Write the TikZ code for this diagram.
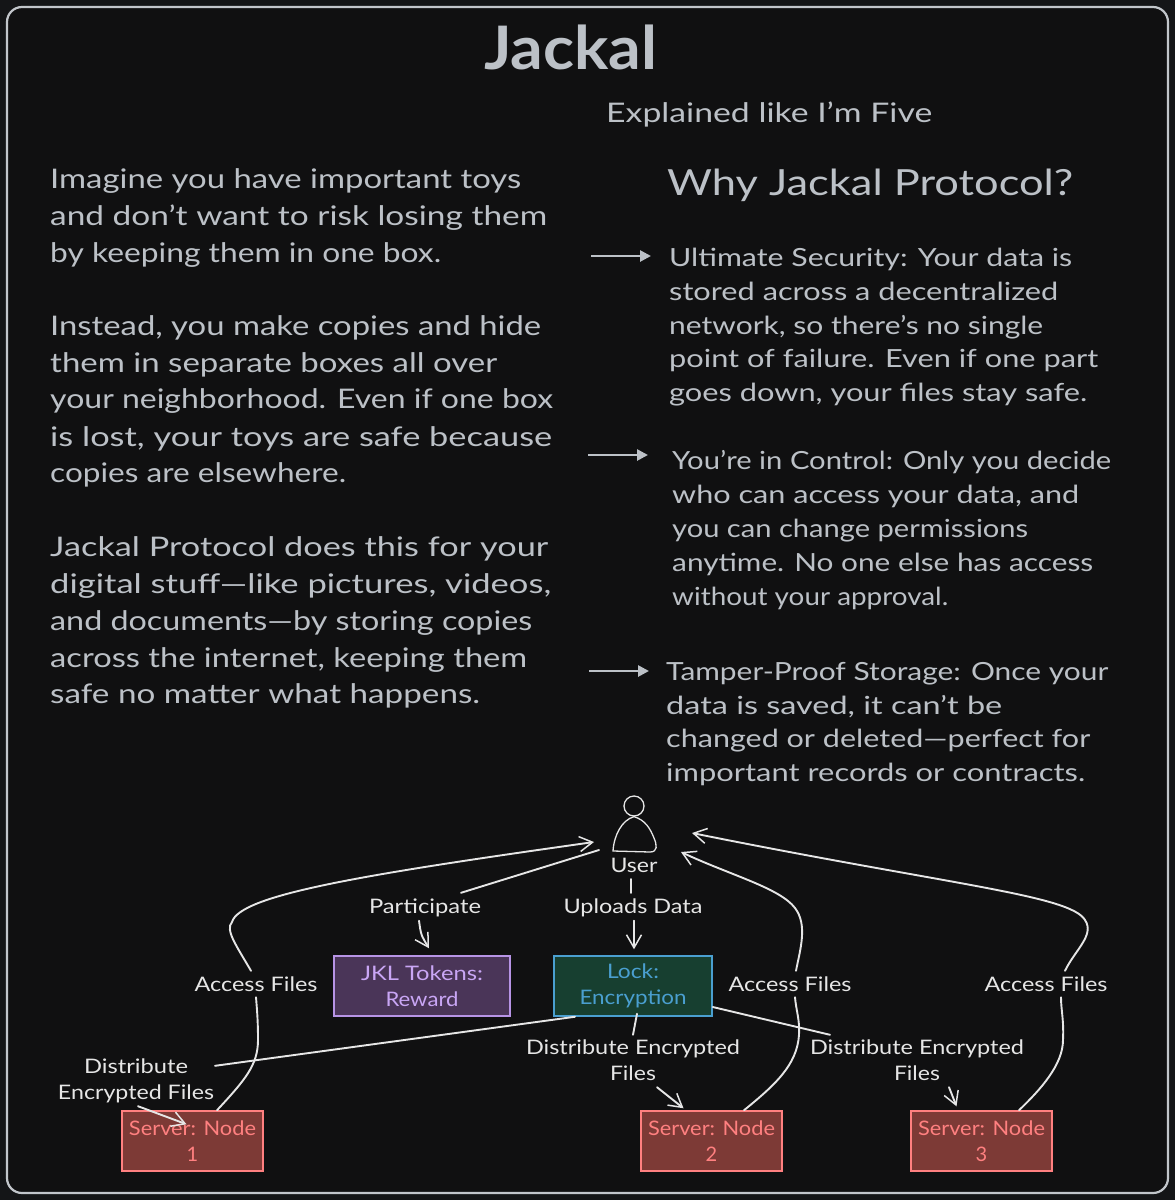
\documentclass[tikz,border=0pt]{standalone}
\usepackage{graphicx}
\usepackage{fontspec}
\setmainfont{Lato}
\usetikzlibrary{arrows.meta}
\definecolor{outerbg}{HTML}{141517}
\definecolor{innerbg}{HTML}{101011}
\definecolor{frameline}{HTML}{C2C6CB}
\definecolor{bodytext}{HTML}{BCC1C7}
\definecolor{diagtext}{HTML}{E6E6E6}
\definecolor{jklfill}{HTML}{4A3558}
\definecolor{jklline}{HTML}{B794E6}
\definecolor{jkltext}{HTML}{C9A6F5}
\definecolor{lockfill}{HTML}{173F30}
\definecolor{lockline}{HTML}{4A9FD0}
\definecolor{srvfill}{HTML}{7D3A36}
\definecolor{srvline}{HTML}{FF8080}
\newcommand{\fl}[2]{\resizebox{#1pt}{\height}{#2}}
\newcommand{\bodyline}[5]{\node[bodyline] (#1) at (#2,#3) {\fl{#4}{#5}};}
\tikzset{
  bodyline/.style={anchor=base west,inner sep=0pt,text=bodytext,font=\fontsize{27}{32}\selectfont},
  rightline/.style={anchor=base west,inner sep=0pt,text=bodytext,font=\fontsize{25}{30}\selectfont},
  lab/.style={inner sep=0pt,text=diagtext,align=center,font=\fontsize{20}{26}\selectfont},
  boxbase/.style={draw,line width=1.5pt,inner sep=0pt,align=center,font=\fontsize{20}{26}\selectfont},
  jklbox/.style={boxbase,fill=jklfill,draw=jklline,text=jkltext,minimum width=176pt,minimum height=60pt},
  lockbox/.style={boxbase,fill=lockfill,draw=lockline,text=lockline,minimum width=158pt,minimum height=60pt},
  srvbox/.style={boxbase,fill=srvfill,draw=srvline,text=srvline,minimum width=141pt,minimum height=60pt},
  conn/.style={draw=diagtext,line width=1.9pt,line cap=round},
  barb/.style={conn,-{Straight Barb[length=13pt,width=15pt,line width=1.5pt]}},
  solidarrow/.style={draw=bodytext,line width=2.6pt,-{Triangle[length=11pt,width=11pt]}}
}
\begin{document}
\begin{tikzpicture}[x=1pt,y=-1pt]
\useasboundingbox (0,0) rectangle (1175,1200);
\fill[outerbg] (0,0) rectangle (1175,1200);
\draw[frameline,fill=innerbg,line width=2.2pt,rounded corners=15pt] (7,7) rectangle (1168,1193);

% headings
\node[anchor=base west,inner sep=0pt,text=bodytext,font=\fontsize{60}{70}\selectfont\bfseries] (title) at (484,69) {\fl{173}{Jackal}};
\node[anchor=base west,inner sep=0pt,text=bodytext,font=\fontsize{27}{32}\selectfont] (subtitle) at (606,122) {\fl{326}{Explained like I'm Five}};
\node[anchor=base west,inner sep=0pt,text=bodytext,font=\fontsize{36}{42}\selectfont] (why) at (667,195) {\fl{406}{Why Jackal Protocol?}};

% left column
\bodyline{a1}{50}{188}{471}{Imagine you have important toys}
\bodyline{a2}{50}{225}{497}{and don’t want to risk losing them}
\bodyline{a3}{50}{262}{391}{by keeping them in one box.}
\bodyline{b1}{50}{335}{491}{Instead, you make copies and hide}
\bodyline{b2}{50}{372}{447}{them in separate boxes all over}
\bodyline{b3}{50}{408}{503}{your neighborhood. Even if one box}
\bodyline{b4}{50}{446}{502}{is lost, your toys are safe because}
\bodyline{b5}{50}{482}{296}{copies are elsewhere.}
\bodyline{c1}{50}{556}{498}{Jackal Protocol does this for your}
\bodyline{c2}{50}{593}{501}{digital stuff—like pictures, videos,}
\bodyline{c3}{50}{630}{482}{and documents—by storing copies}
\bodyline{c4}{50}{667}{477}{across the internet, keeping them}
\bodyline{c5}{50}{703}{430}{safe no matter what happens.}

% right column
\node[rightline] (d1) at (669,266) {\fl{403}{Ultimate Security: Your data is}};
\node[rightline] (d2) at (669,300) {\fl{389}{stored across a decentralized}};
\node[rightline] (d3) at (669,334) {\fl{374}{network, so there’s no single}};
\node[rightline] (d4) at (669,367) {\fl{429}{point of failure. Even if one part}};
\node[rightline] (d5) at (669,401) {\fl{418}{goes down, your files stay safe.}};
\node[rightline] (e1) at (672,469) {\fl{439}{You’re in Control: Only you decide}};
\node[rightline] (e2) at (672,503) {\fl{407}{who can access your data, and}};
\node[rightline] (e3) at (672,537) {\fl{356}{you can change permissions}};
\node[rightline] (e4) at (672,571) {\fl{421}{anytime. No one else has access}};
\node[rightline] (e5) at (672,605) {\fl{276}{without your approval.}};
\node[rightline] (f1) at (666,680) {\fl{442}{Tamper-Proof Storage: Once your}};
\node[rightline] (f2) at (666,714) {\fl{336}{data is saved, it can’t be}};
\node[rightline] (f3) at (666,747) {\fl{424}{changed or deleted—perfect for}};
\node[rightline] (f4) at (666,781) {\fl{419}{important records or contracts.}};

% list arrows
\coordinate (g1) at (591,256); \draw[solidarrow] (g1) -- ([xshift=-18pt]d1.west |- g1);
\coordinate (g2) at (588,455); \draw[solidarrow] (g2) -- ([xshift=-24pt]e1.west |- g2);
\coordinate (g3) at (589,671); \draw[solidarrow] (g3) -- ([xshift=-17pt]f1.west |- g3);

% boxes
\node[jklbox] (jkl) at (422,986) {\fl{122}{JKL Tokens:}\\\fl{73}{Reward}};
\node[lockbox] (lock) at (633,986) {\fl{52}{Lock:}\\\fl{107}{Encryption}};
\node[srvbox] (s1) at (192.5,1141) {\fl{127}{Server: Node}\\1};
\node[srvbox] (s2) at (711.5,1141) {\fl{127}{Server: Node}\\2};
\node[srvbox] (s3) at (981.5,1141) {\fl{127}{Server: Node}\\3};

% user
\node[draw=diagtext,line width=1.3pt,circle,minimum size=20pt,inner sep=0pt] (head) at (634,806) {};
\draw[diagtext,line width=1.3pt,line cap=round] (head.south) .. controls (622,820) and (614,835) .. (613,851) -- (650,852) .. controls (658,852) and (657,845) .. (654,838) .. controls (650,828) and (645,820) .. (head.south);
\node[lab] (user) at (634,865) {\fl{47}{User}};

% labels
\node[lab,minimum height=26pt] (part) at (425,907.5) {\fl{112}{Participate}};
\node[lab,minimum height=26pt] (upl) at (633,907.5) {\fl{139}{Uploads Data}};
\node[lab,minimum height=26pt] (af1) at (256,984) {\fl{123}{Access Files}};
\node[lab,minimum height=26pt] (af2) at (790,984) {\fl{123}{Access Files}};
\node[lab,minimum height=26pt] (af3) at (1046,984) {\fl{123}{Access Files}};
\node[lab,minimum height=52pt] (de1) at (136,1081) {\fl{104}{Distribute}\\\fl{156}{Encrypted Files}};
\node[lab,minimum height=52pt] (de2) at (633,1060) {\fl{214}{Distribute Encrypted}\\\fl{46}{Files}};
\node[lab,minimum height=52pt] (de3) at (917,1060) {\fl{214}{Distribute Encrypted}\\\fl{46}{Files}};

% free ends near the user
\coordinate (uL) at (594,842);
\coordinate (uP) at (599,850);
\coordinate (uR1) at (681,852);
\coordinate (uR2) at (692,833);
\coordinate (uD) at (631,879);

% user <-> participate -> tokens
\draw[conn] (uP) -- ([xshift=36pt,yshift=1.5pt]part.north);
\draw[barb] ([xshift=-6pt,yshift=0pt]part.south) .. controls (421,935) .. ([xshift=7pt,yshift=7pt]jkl.north);
% user -> uploads -> lock
\draw[conn] (uD) -- ([xshift=-2pt,yshift=1.5pt]upl.north);
\draw[barb] ([xshift=1pt]upl.south) -- ([xshift=1pt,yshift=6pt]lock.north);
% lock -> distribute
\draw[conn] ([xshift=-58pt]lock.south) -- ([xshift=79pt,yshift=-11pt]de1.north);
\draw[barb] ([xshift=2pt,yshift=1pt]de1.south) -- ([xshift=-6pt,yshift=-14pt]s1.north);
\draw[conn] ([xshift=4pt,yshift=3pt]lock.south) -- ([yshift=-1pt]de2.north);
\draw[barb] ([xshift=24pt,yshift=-1pt]de2.south) -- ([xshift=-28pt,yshift=2pt]s2.north);
\draw[conn] (lock.east |- 0,1007) -- ([xshift=-87pt,yshift=-1pt]de3.north);
\draw[barb] ([xshift=32pt,yshift=-1pt]de3.south) -- ([xshift=-25pt,yshift=4pt]s3.north);
% access files 1
\draw[conn] ([xshift=24.5pt]s1.north) .. controls (245,1080) and (258,1065) .. (258,1040) .. controls (258,1020) and (257,1010) .. (af1.south);
\draw[barb] ([xshift=-5pt]af1.north) .. controls (236,945) and (225,930) .. (232,922) .. controls (240,895) and (360,875) .. (uL);
% access files 2
\draw[conn] ([xshift=32.5pt]s2.north) .. controls (775,1085) and (797,1065) .. (799,1035) .. controls (800,1020) and (796,1010) .. ([xshift=5pt]af2.south);
\draw[barb] ([xshift=6pt]af2.north) .. controls (800,950) and (808,925) .. (795,908) .. controls (780,888) and (730,875) .. (uR1);
% access files 3
\draw[conn] ([xshift=37.5pt]s3.north) .. controls (1040,1090) and (1063,1065) .. (1063,1040) .. controls (1064,1020) and (1061,1010) .. ([xshift=15pt]af3.south);
\draw[barb] ([xshift=19pt]af3.north) .. controls (1075,950) and (1095,935) .. (1085,920) .. controls (1070,895) and (950,885) .. (uR2);
\end{tikzpicture}
\end{document}
